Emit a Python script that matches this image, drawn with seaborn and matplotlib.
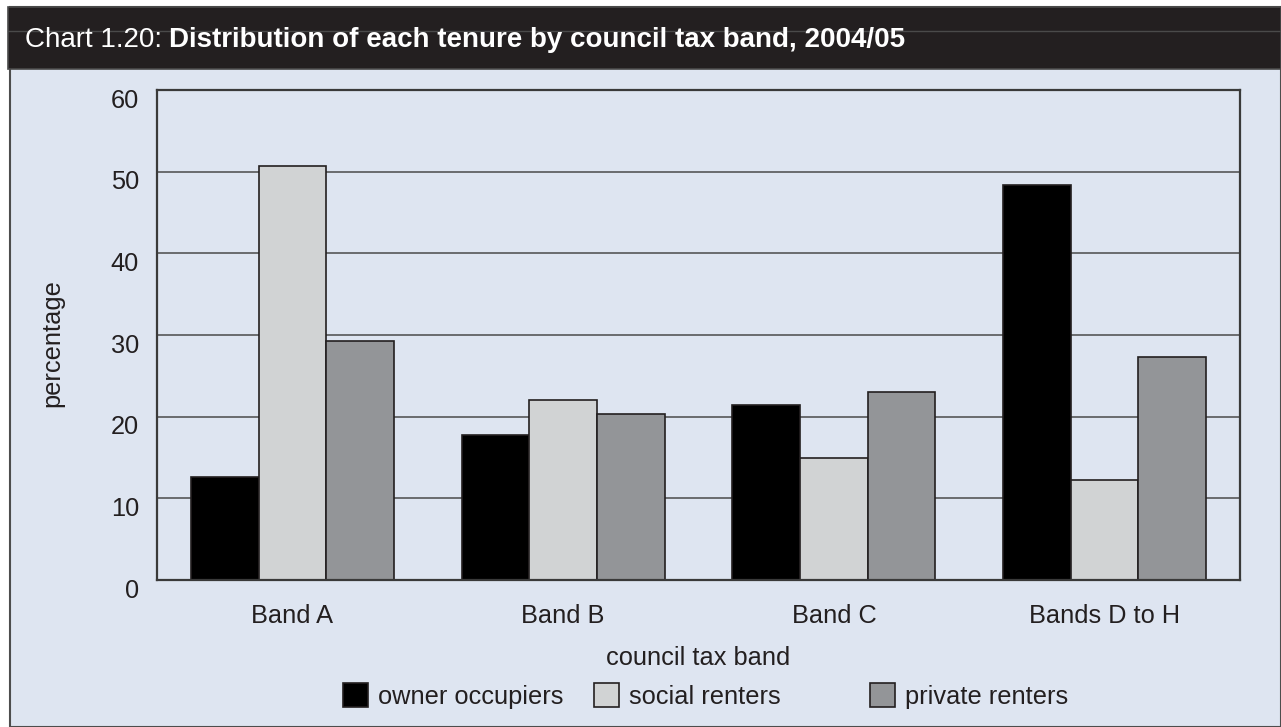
import matplotlib
matplotlib.use("Agg")
import matplotlib.pyplot as plt
import matplotlib.transforms as mtransforms
from matplotlib.patches import Rectangle
from matplotlib.lines import Line2D
import seaborn as sns
import pandas as pd

# Data: percentage of each tenure in each council tax band, 2004/05
bands = ["Band A", "Band B", "Band C", "Bands D to H"]
tenures = ["owner occupiers", "social renters", "private renters"]
owner_occupiers = [12.6, 17.8, 21.4, 48.4]
social_renters = [50.7, 22.0, 14.9, 12.2]
private_renters = [29.3, 20.3, 23.0, 27.3]
y_ticks = [0, 10, 20, 30, 40, 50, 60]

title_prefix = "Chart 1.20:"
title_main = "Distribution of each tenure by council tax band, 2004/05"
x_label = "council tax band"
y_label = "percentage"

colours = ["#000000", "#d1d3d4", "#939598"]
bg = "#dee5f1"
ink = "#231f20"

df = pd.DataFrame({
    "band": bands * 3,
    "tenure": [tenures[0]] * 4 + [tenures[1]] * 4 + [tenures[2]] * 4,
    "pct": owner_occupiers + social_renters + private_renters,
})

sns.set_theme(style="white")
plt.rcParams["font.family"] = ["Liberation Sans", "DejaVu Sans"]

W, H = 1281, 727
fig = plt.figure(figsize=(W / 100, H / 100), dpi=100)
fig.patch.set_facecolor("white")


def fx(px):
    return px / W


def fy(py):
    return 1 - py / H


# panel background and dark header band
fig.add_artist(Rectangle((fx(10), 0), 1 - fx(10), fy(7), transform=fig.transFigure,
                         facecolor=bg, edgecolor="#4d4d4d", lw=1.5, zorder=0))
fig.add_artist(Rectangle((fx(8), fy(69)), 1 - fx(8), fy(7) - fy(69), transform=fig.transFigure,
                         facecolor=ink, edgecolor="#4a4a4a", lw=1.2, zorder=1))
fig.add_artist(Line2D([fx(8), 1], [fy(31), fy(31)], transform=fig.transFigure,
                      color="#4a4a4a", lw=1.0, zorder=2))

ax = fig.add_axes([fx(157), fy(580), fx(1240) - fx(157), fy(90) - fy(580)])
ax.set_facecolor(bg)
ax.set_axisbelow(True)

sns.barplot(data=df, x="band", y="pct", hue="tenure", order=bands, hue_order=tenures,
            palette=colours, saturation=1, width=0.75, edgecolor=ink, linewidth=1.2,
            legend=False, ax=ax, zorder=2)

ax.set_xlim(-0.5, len(bands) - 0.5)
ax.set_ylim(y_ticks[0], y_ticks[-1])
ax.set_yticks(y_ticks)
ax.yaxis.grid(True, color="#4a4a4a", lw=1.1)
ax.xaxis.grid(False)

for side in ["left", "right", "bottom", "top"]:
    ax.spines[side].set_visible(True)
    ax.spines[side].set_color("#3a3a3a")
    ax.spines[side].set_linewidth(1.6)

# category labels centred, tick marks at the category boundaries
ax.set_xticks(range(len(bands)))
ax.set_xticklabels(bands)
ax.set_xticks([i - 0.5 for i in range(len(bands) + 1)], minor=True)
ax.tick_params(axis="x", which="major", length=0, pad=17, labelsize=18.3, labelcolor=ink)
ax.tick_params(axis="x", which="minor", length=11, width=1.6, color="#3a3a3a", direction="out")
ax.tick_params(axis="y", which="major", length=0, pad=13, labelsize=18.3, labelcolor=ink)
ax.tick_params(axis="y", which="minor", length=0)

shift = mtransforms.ScaledTranslation(0, -8 / 100, fig.dpi_scale_trans)
for lab in ax.get_yticklabels():
    lab.set_transform(lab.get_transform() + shift)

ax.set_xlabel(x_label, fontsize=18.3, color=ink)
ax.xaxis.set_label_coords(0.5, (580 - 665) / 490)
ax.xaxis.label.set_va("baseline")
ax.set_ylabel(y_label, fontsize=18.3, color=ink)
ax.yaxis.set_label_coords((52 - 157) / 1083, (580 - 343) / 490)
ax.yaxis.label.set_va("center")

# legend row
leg_x = [343, 594, 870]
for x0, name, col in zip(leg_x, tenures, colours):
    fig.add_artist(Rectangle((fx(x0), fy(707)), fx(25), fy(683) - fy(707),
                             transform=fig.transFigure, facecolor=col,
                             edgecolor=ink, lw=1.2, zorder=3))
    fig.text(fx(x0 + 35), fy(704), name, fontsize=18.3, color=ink,
             ha="left", va="baseline", zorder=3)

# title: plain prefix followed by the bold heading
t1 = fig.text(fx(25), fy(47), title_prefix, color="white", fontsize=20,
              ha="left", va="baseline", zorder=3)
fig.canvas.draw()
ext = t1.get_window_extent(renderer=fig.canvas.get_renderer())
fig.text((ext.x1 + 7) / W, fy(47), title_main, color="white", fontsize=20,
         fontweight="bold", ha="left", va="baseline", zorder=3)

fig.savefig("out.png", dpi=100, facecolor=fig.get_facecolor())
